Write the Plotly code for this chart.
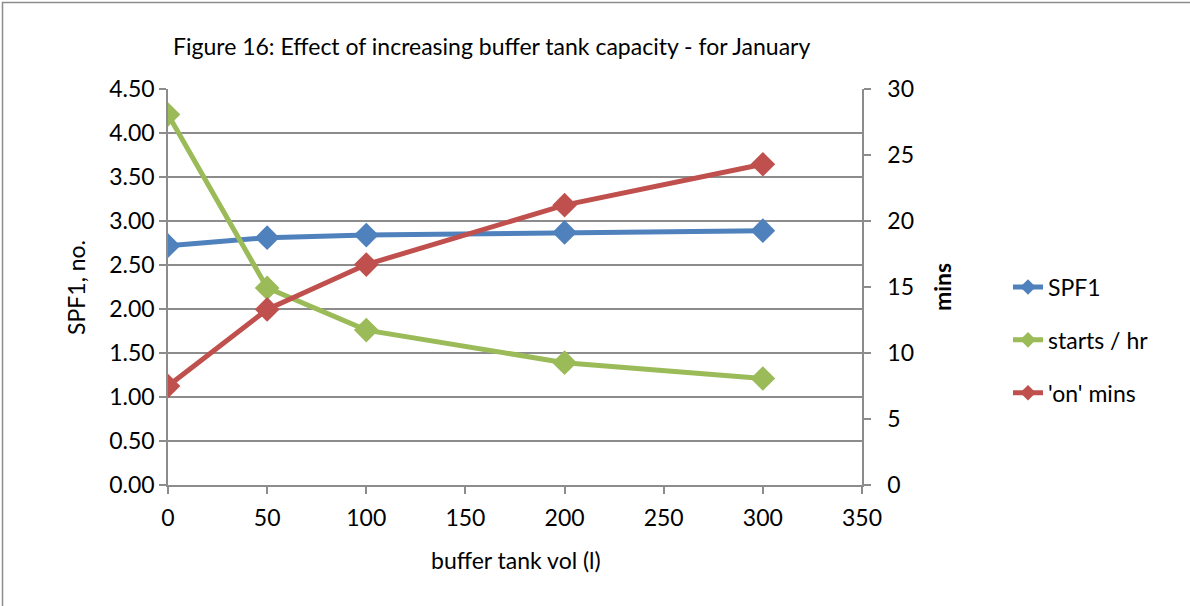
import plotly.graph_objects as go

vol = [0, 50, 100, 200, 300]
spf1 = [2.72, 2.81, 2.84, 2.87, 2.89]
starts_hr = [4.21, 2.24, 1.76, 1.39, 1.21]
on_mins = [7.5, 13.3, 16.7, 21.2, 24.3]

FONT = "Lato, 'Open Sans', sans-serif"
FS = 23
GRID = "#8c8c8c"
AXIS = "#8c8c8c"

fig = go.Figure()
fig.add_trace(go.Scatter(x=vol, y=spf1, name="SPF1", mode="lines+markers", legendgroup="a",
                         line=dict(color="#4F81BD", width=5),
                         marker=dict(symbol="diamond", size=19, color="#4F81BD")))
fig.add_trace(go.Scatter(x=vol, y=starts_hr, name="starts / hr", mode="lines+markers", legendgroup="b",
                         line=dict(color="#9BBB59", width=5),
                         marker=dict(symbol="diamond", size=19, color="#9BBB59")))
fig.add_trace(go.Scatter(x=vol, y=on_mins, name="'on' mins", mode="lines+markers", yaxis="y2",
                         legendgroup="c",
                         line=dict(color="#C0504D", width=5),
                         marker=dict(symbol="diamond", size=19, color="#C0504D")))

L, R, T, B = 168, 328, 89, 121
W, H = 1190, 606
pw = W - L - R
ph = H - T - B

def px(xp):
    return (xp - L) / pw

def py(yp):
    return (H - B - yp) / ph

fig.update_layout(
    width=W, height=H,
    margin=dict(l=L, r=R, t=T, b=B, autoexpand=False),
    paper_bgcolor="white", plot_bgcolor="white",
    font=dict(family=FONT, size=FS, color="black"),
    showlegend=True,
    legend=dict(x=px(1008), y=py(340), xanchor="left", yanchor="middle",
                font=dict(size=FS), tracegroupgap=20, itemsizing="constant",
                bgcolor="rgba(0,0,0,0)"),
    xaxis=dict(range=[0, 350], dtick=50, tick0=0, showgrid=False,
               showline=True, linecolor=AXIS, linewidth=1.5,
               ticks="outside", ticklen=7, tickcolor=AXIS, tickwidth=1.5,
               ticklabelstandoff=5,
               tickfont=dict(size=FS), zeroline=False),
    yaxis=dict(range=[0, 4.5], dtick=0.5, tick0=0, tickformat=".2f",
               showgrid=True, gridcolor=GRID, gridwidth=1.5,
               showline=True, linecolor=AXIS, linewidth=1.5,
               ticks="outside", ticklen=7, tickcolor=AXIS, tickwidth=1.5,
               tickfont=dict(size=FS), zeroline=False),
    yaxis2=dict(range=[0, 30], dtick=5, tick0=0, overlaying="y", side="right",
                showgrid=False, showline=True, linecolor=AXIS, linewidth=1.5,
                ticks="outside", ticklen=7, tickcolor=AXIS, tickwidth=1.5,
                ticklabelstandoff=12,
                tickfont=dict(size=FS), zeroline=False),
)

fig.add_annotation(text="Figure 16: Effect of increasing buffer tank capacity - for January",
                   xref="paper", yref="paper", x=px(491), y=py(46),
                   showarrow=False, font=dict(size=FS), xanchor="center", yanchor="middle")
fig.add_annotation(text="SPF1, no.", xref="paper", yref="paper", x=px(76), y=py(288),
                   showarrow=False, textangle=-90, font=dict(size=FS),
                   xanchor="center", yanchor="middle")
fig.add_annotation(text="<b>mins</b>", xref="paper", yref="paper", x=px(942), y=py(287),
                   showarrow=False, textangle=-90, font=dict(size=FS),
                   xanchor="center", yanchor="middle")
fig.add_annotation(text="buffer tank vol (l)", xref="paper", yref="paper", x=px(516), y=py(560),
                   showarrow=False, font=dict(size=FS), xanchor="center", yanchor="middle")

fig.add_shape(type="rect", xref="paper", yref="paper",
              x0=px(2.5), y0=py(2.5), x1=px(1200), y1=py(620),
              line=dict(color="#8c8c8c", width=1.5), layer="below")

fig.write_html("out.html", config={"displayModeBar": False},
               post_script="document.body.style.margin='0';document.body.style.overflow='hidden';")
